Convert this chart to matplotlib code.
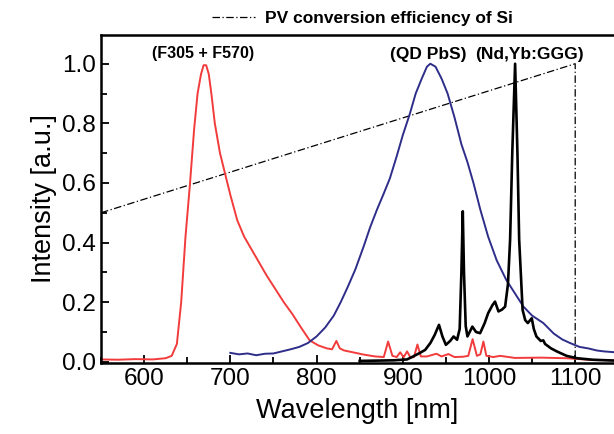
import matplotlib
matplotlib.use("Agg")
import matplotlib.pyplot as plt
from matplotlib.lines import Line2D
from matplotlib.ticker import MultipleLocator

plt.rcParams['font.family'] = ['Liberation Sans', 'DejaVu Sans']

# (F305 + F570) emission
red_x = [550, 570, 590, 610, 625, 632, 638, 643, 648, 653, 658, 662, 666, 669, 672, 675, 678, 682,
         688, 694, 700, 708, 716, 724, 732, 742, 752, 762, 772, 782, 792, 802, 812, 818, 823, 827,
         832, 842, 855, 868, 878, 883, 888, 893, 897, 901, 905, 909, 913, 917, 921, 928, 939, 945,
         953, 960, 970, 976, 981, 986, 990, 993.5, 997, 1005, 1013, 1030, 1060, 1090, 1120, 1146]
red_y = [0.008, 0.007, 0.009, 0.008, 0.012, 0.02, 0.06, 0.2, 0.42, 0.59, 0.78, 0.9, 0.965, 0.995,
         0.995, 0.965, 0.9, 0.8, 0.7, 0.63, 0.56, 0.475, 0.42, 0.38, 0.34, 0.29, 0.245, 0.2, 0.16,
         0.115, 0.072, 0.055, 0.045, 0.042, 0.07, 0.045, 0.038, 0.032, 0.024, 0.018, 0.016, 0.068,
         0.02, 0.016, 0.032, 0.015, 0.035, 0.014, 0.016, 0.058, 0.018, 0.018, 0.027, 0.018, 0.026,
         0.016, 0.017, 0.02, 0.076, 0.02, 0.025, 0.068, 0.02, 0.016, 0.02, 0.013, 0.014, 0.012,
         0.006, 0.005]

# QD PbS emission
blue_x = [700, 710, 720, 730, 740, 750, 760, 770, 780, 790, 800, 810, 820, 828, 836, 845, 855, 862,
          870, 878, 885, 893, 900, 908, 915, 922, 928, 932, 938, 945, 952, 960, 968, 975, 982, 990,
          999, 1009, 1020, 1030, 1040, 1050, 1063, 1075, 1085, 1094, 1105, 1115, 1125, 1133, 1146]
blue_y = [0.03, 0.025, 0.028, 0.022, 0.027, 0.028, 0.035, 0.042, 0.05, 0.063, 0.085, 0.115, 0.155,
          0.2, 0.25, 0.31, 0.39, 0.45, 0.51, 0.565, 0.615, 0.69, 0.76, 0.83, 0.9, 0.95, 0.99, 1.0,
          0.99, 0.95, 0.9, 0.82, 0.73, 0.67, 0.6, 0.51, 0.42, 0.34, 0.275, 0.23, 0.185, 0.155, 0.13,
          0.095, 0.075, 0.063, 0.05, 0.045, 0.038, 0.035, 0.032]

# Nd,Yb:GGG emission
black_x = [850, 870, 890, 905, 912, 920, 926, 932, 937, 942, 946, 950, 955, 959, 963, 966, 968,
           969.6, 971, 973, 975, 980.7, 985, 989.7, 995, 999, 1004, 1007, 1011, 1015, 1018.7, 1022,
           1024.5, 1027, 1030.3, 1033, 1035, 1039, 1042, 1045, 1049.6, 1052, 1055, 1060, 1063, 1065,
           1072, 1078.6, 1090, 1102, 1120, 1146]
black_y = [0.003, 0.004, 0.005, 0.008, 0.018, 0.03, 0.04, 0.063, 0.09, 0.124, 0.085, 0.057, 0.07,
           0.085, 0.074, 0.11, 0.3, 0.505, 0.3, 0.12, 0.085, 0.118, 0.1, 0.096, 0.13, 0.163, 0.19,
           0.202, 0.169, 0.175, 0.185, 0.26, 0.41, 0.7, 1.0, 0.7, 0.41, 0.174, 0.14, 0.13, 0.146,
           0.11, 0.085, 0.07, 0.072, 0.06, 0.045, 0.035, 0.02, 0.012, 0.007, 0.004]

# PV conversion efficiency of Si
pv_x = [550, 1100, 1100]
pv_y = [0.5, 1.0, 0.0]

fig = plt.figure(figsize=(6.14, 4.34), dpi=100)
ax = fig.add_axes([0.1645, 0.1636, 0.8355, 0.7555])

dashdot = (0, (6, 2, 1, 2))
ax.plot(pv_x, pv_y, color='black', lw=0.9, ls=dashdot)
ax.plot(red_x, red_y, color='#f23b3b', lw=1.4)
ax.plot(blue_x, blue_y, color='#2e2e8a', lw=1.4)
ax.plot(black_x, black_y, color='black', lw=1.9)

ax.set_xlim(550, 1145)
ax.set_ylim(-0.004, 1.096)
ax.xaxis.set_major_locator(MultipleLocator(100))
ax.xaxis.set_minor_locator(MultipleLocator(50))
ax.yaxis.set_major_locator(MultipleLocator(0.2))
ax.yaxis.set_minor_locator(MultipleLocator(0.1))
ax.yaxis.set_major_formatter(plt.FormatStrFormatter('%.1f'))
ax.tick_params(which='both', direction='in', labelsize=17.5, width=1.3)
ax.tick_params(which='major', length=6)
ax.tick_params(which='minor', length=4)
ax.spines['right'].set_visible(False)
for s in ['left', 'top', 'bottom']:
    ax.spines[s].set_linewidth(1.8)

ax.set_xlabel("Wavelength [nm]", fontsize=19.5, labelpad=6)
ax.set_ylabel("Intensity [a.u.]", fontsize=19.5, labelpad=4)

ax.text(668, 1.035, "(F305 + F570)", ha='center', va='center', fontsize=11.5, fontweight='bold')
ax.text(929, 1.03, "(QD PbS)", ha='center', va='center', fontsize=12.5, fontweight='bold')
ax.text(1047, 1.03, "(Nd,Yb:GGG)", ha='center', va='center', fontsize=12.5, fontweight='bold')

h = Line2D([], [], color='black', lw=0.9, ls=dashdot)
fig.legend([h], ["PV conversion efficiency of Si"], loc='center', bbox_to_anchor=(0.59, 0.958),
           frameon=False, handlelength=2.5, handletextpad=0.57,
           prop={'size': 12.5, 'weight': 'bold'})

fig.savefig("out.png", dpi=100)
